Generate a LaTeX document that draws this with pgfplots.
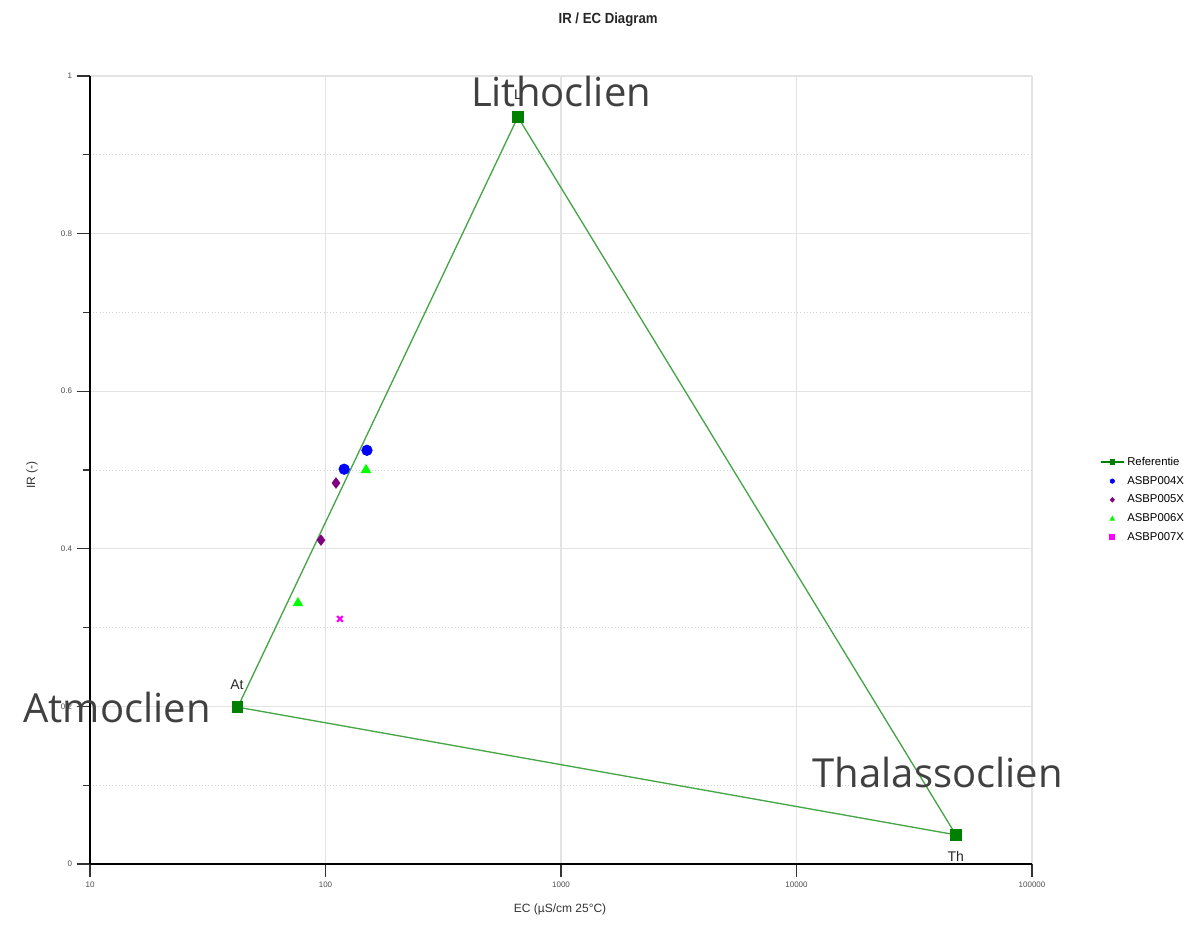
\documentclass[border=0pt]{standalone}
\usepackage{pgfplots}
\pgfplotsset{compat=1.18}
\usepackage{fontspec}
\setmainfont{Liberation Sans}
\newfontfamily\bigfont{Open Sans}
\definecolor{refgreen}{RGB}{0,128,0}
\definecolor{refline}{RGB}{70,165,70}
\definecolor{bigtext}{RGB}{64,64,64}
\definecolor{p5}{RGB}{128,0,128}
\definecolor{p6}{RGB}{0,255,0}
\definecolor{p7}{RGB}{255,0,255}
\begin{document}
\begin{tikzpicture}
\useasboundingbox (0,0) rectangle (897pt,695.25pt);
\begin{axis}[
  at={(67.5pt,47.25pt)}, anchor=south west,
  scale only axis, width=706.5pt, height=591pt,
  xmode=log, xmin=10, xmax=100000, ymin=0, ymax=1,
  axis x line*=bottom, axis y line*=left,
  axis line style={black, line width=0.9pt, -},
  xtick={10,100,1000,10000,100000},
  xticklabels={10,100,1000,10000,100000},
  xminorticks=false,
  ytick={0,0.2,0.4,0.6,0.8,1},
  yticklabels={0,0.2,0.4,0.6,0.8,1},
  minor y tick num=1,
  tick align=outside,
  major tick length=10pt, minor tick length=5pt,
  tick style={black!80, line width=0.8pt},
  ticklabel style={font=\fontsize{6}{7}\selectfont, text=black!70},
  /pgf/number format/assume math mode=true,
  xmajorgrids=true, xminorgrids=false, ymajorgrids=true, yminorgrids=true,
  major grid style={gray!22, line width=0.8pt},
  minor grid style={gray!35, dotted, line width=0.6pt},
  clip=false,
  legend style={at={(rel axis cs:1.072,0.520)}, anchor=north west, draw=none, fill=none,
    font=\fontsize{8.5}{10}\selectfont, row sep=2.6pt, inner sep=0pt},
  legend cell align=left,
]
\addplot[refline, line width=1pt, mark=square*, mark size=3.8pt,
  mark options={refgreen, fill=refgreen, solid},
  legend image code/.code={\draw[refgreen, line width=1.3pt] (0cm,0cm) -- (0.6cm,0cm);
    \fill[refgreen] (0.3cm,0cm) ++(-1.6pt,-1.6pt) rectangle ++(3.2pt,3.2pt);}] coordinates {
  (42.4,0.199) (656,0.948) (47500,0.037) (42.4,0.199)};
\addlegendentry{Referentie}
\addplot[only marks, mark=*, mark size=4pt, blue, mark options={fill=blue},
  legend image code/.code={\fill[blue] (0.3cm,0cm) circle (1.7pt);}] coordinates {
  (120,0.501) (150,0.525)};
\addlegendentry{ASBP004X}
\addplot[only marks, mark=diamond*, mark size=4pt, p5, mark options={fill=p5},
  legend image code/.code={\fill[p5] (0.3cm,1.8pt) -- (0.3cm+1.6pt,0pt) -- (0.3cm,-1.8pt) -- (0.3cm-1.6pt,0pt) -- cycle;}] coordinates {
  (110.8,0.4835) (95.7,0.411)};
\addlegendentry{ASBP005X}
\addplot[only marks, mark=triangle*, mark size=4.2pt, p6, mark options={fill=p6},
  legend image code/.code={\fill[p6] (0.3cm,1.8pt) -- (0.3cm+1.7pt,-1.4pt) -- (0.3cm-1.7pt,-1.4pt) -- cycle;}] coordinates {
  (148.6,0.5) (76.4,0.331)};
\addlegendentry{ASBP006X}
\addplot[only marks, mark=x, mark size=3pt, p7, line width=1.6pt,
  legend image code/.code={\fill[p7] (0.3cm,0cm) ++(-1.5pt,-1.5pt) rectangle ++(3pt,3pt);}] coordinates {
  (115.2,0.311)};
\addlegendentry{ASBP007X}

\node[font=\fontsize{10.5}{12}\selectfont, text=black!85] at (rel axis cs:0.4544,0.9759) {L};
\node[font=\fontsize{10.5}{12}\selectfont, text=black!85] at (rel axis cs:0.156,0.227) {At};
\node[font=\fontsize{10.5}{12}\selectfont, text=black!85] at (rel axis cs:0.919,0.0102) {Th};

\node[font=\bigfont\fontsize{30}{34}\selectfont, text=bigtext] at (rel axis cs:0.5,0.9797) {Lithoclien};
\node[font=\bigfont\fontsize{30}{34}\selectfont, text=bigtext] at (rel axis cs:0.0287,0.198) {Atmoclien};
\node[font=\bigfont\fontsize{30}{34}\selectfont, text=bigtext] at (rel axis cs:0.900,0.1155) {Thalassoclien};

\node[font=\bfseries\fontsize{11}{13}\selectfont, text=black!85] at (rel axis cs:0.550,1.071) {\scalebox{0.9}[1]{IR / EC Diagram}};
\node[font=\fontsize{9}{11}\selectfont, text=black!80] at (rel axis cs:0.499,-0.058) {EC (µS/cm 25°C)};
\node[font=\fontsize{9}{11}\selectfont, text=black!80, rotate=90] at (rel axis cs:-0.0616,0.494) {IR (-)};
\end{axis}
\end{tikzpicture}
\end{document}
